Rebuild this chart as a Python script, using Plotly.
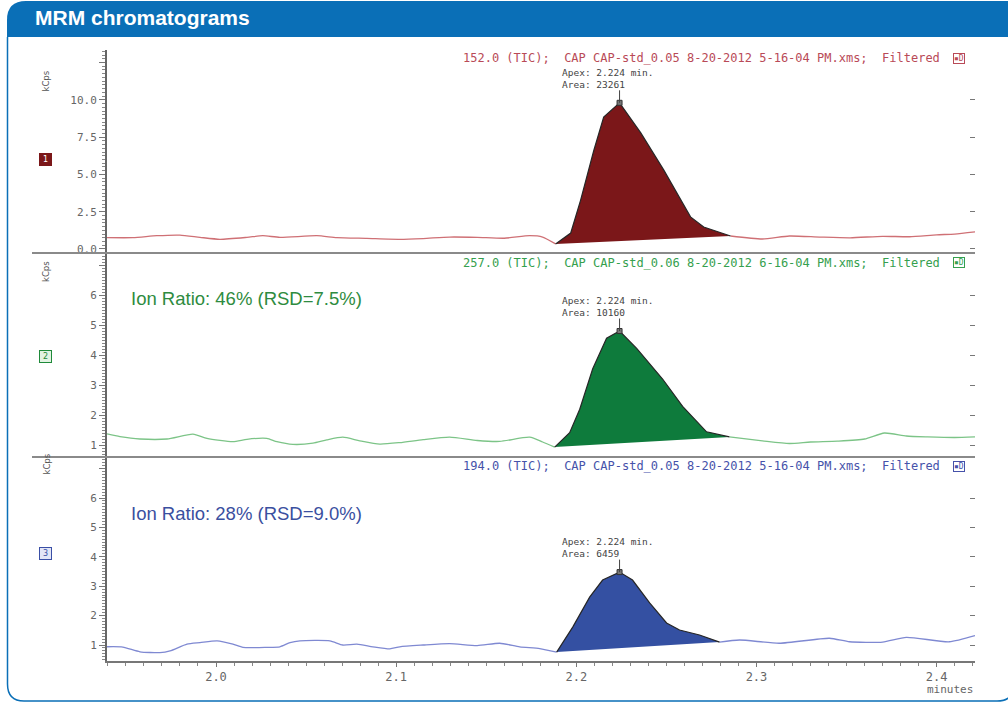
import plotly.graph_objects as go

# ---------------- data (time in minutes, intensity in kCps) ----------------
RED_T = [1.9395, 1.9539, 1.9672, 1.9800, 1.9911, 2.0022, 2.0172, 2.0260, 2.0355, 2.0560, 2.0671, 2.0837, 2.1020,
         2.1150, 2.1297, 2.1450, 2.1600, 2.1741, 2.1813,
         2.1885, 2.1969, 2.2024, 2.2097, 2.2152, 2.2240, 2.2357, 2.2485, 2.2634, 2.2707, 2.2856,
         2.3033, 2.3183, 2.3350, 2.3520, 2.3700, 2.3850, 2.4000, 2.4100, 2.4213]
RED_V = [0.76, 0.76, 0.89, 0.93, 0.78, 0.65, 0.78, 0.89, 0.78, 0.89, 0.76, 0.71, 0.65,
         0.70, 0.80, 0.78, 0.72, 0.89, 0.80,
         0.34, 1.07, 3.28, 6.60, 8.85, 9.80, 7.80, 5.30, 2.15, 1.47, 0.87,
         0.67, 0.87, 0.80, 0.75, 0.85, 0.82, 0.95, 1.00, 1.15]
RED_PEAK = [2.1885, 2.2856]

GREEN_T = [1.9395, 1.9467, 1.9578, 1.9728, 1.9872, 1.9950, 2.0094, 2.0172, 2.0282, 2.0338, 2.0427, 2.0538,
           2.0615, 2.0704, 2.0798, 2.0909, 2.1020, 2.1150, 2.1297, 2.1450, 2.1575, 2.1741, 2.1813,
           2.1880, 2.1963, 2.2019, 2.2091, 2.2168, 2.2240, 2.2335, 2.2479, 2.2590, 2.2723, 2.2850,
           2.3033, 2.3183, 2.3300, 2.3450, 2.3600, 2.3710, 2.3832, 2.3950, 2.4100, 2.4213]
GREEN_V = [1.37, 1.28, 1.20, 1.20, 1.36, 1.22, 1.11, 1.19, 1.22, 1.11, 1.02, 1.06,
           1.17, 1.26, 1.14, 1.03, 1.08, 1.18, 1.26, 1.15, 1.12, 1.26, 1.10,
           0.93, 1.41, 2.19, 3.54, 4.56, 4.80, 4.22, 3.20, 2.29, 1.44, 1.27,
           1.14, 1.05, 1.10, 1.13, 1.20, 1.40, 1.30, 1.27, 1.25, 1.27]
GREEN_PEAK = [2.1880, 2.2850]

BLUE_T = [1.9395, 1.9483, 1.9578, 1.9689, 1.9745, 1.9839, 1.9911, 2.0006, 2.0094, 2.0150, 2.0282, 2.0355,
          2.0411, 2.0466, 2.0632, 2.0704, 2.0782, 2.0871, 2.0965, 2.1020, 2.1150, 2.1297, 2.1450, 2.1575,
          2.1686, 2.1797,
          2.1891, 2.1980, 2.2074, 2.2146, 2.2240, 2.2312, 2.2407, 2.2501, 2.2573, 2.2684, 2.2795,
          2.2906, 2.3127, 2.3405, 2.3516, 2.3700, 2.3832, 2.4070, 2.4213]
BLUE_V = [0.94, 0.93, 0.77, 0.74, 0.80, 1.03, 1.08, 1.14, 1.03, 0.92, 0.92, 0.94,
          1.08, 1.14, 1.14, 1.00, 1.03, 0.94, 0.87, 0.94, 1.00, 1.05, 0.98, 1.06,
          0.94, 0.88,
          0.76, 1.61, 2.63, 3.21, 3.48, 3.21, 2.43, 1.75, 1.51, 1.34, 1.10,
          1.17, 1.06, 1.23, 1.11, 1.10, 1.26, 1.11, 1.32]
BLUE_PEAK = [2.1891, 2.2795]

HEADERS = ["152.0 (TIC);\u00a0 CAP CAP-std_0.05 8-20-2012 5-16-04 PM.xms;\u00a0 Filtered",
           "257.0 (TIC);\u00a0 CAP CAP-std_0.06 8-20-2012 6-16-04 PM.xms;\u00a0 Filtered",
           "194.0 (TIC);\u00a0 CAP CAP-std_0.05 8-20-2012 5-16-04 PM.xms;\u00a0 Filtered"]
APEX_LABELS = ["Apex: 2.224 min.<br>Area: 23261",
               "Apex: 2.224 min.<br>Area: 10160",
               "Apex: 2.224 min.<br>Area: 6459"]
ION_RATIOS = [None, "Ion Ratio: 46% (RSD=7.5%)", "Ion Ratio: 28% (RSD=9.0%)"]
PANEL_NUMS = ["1", "2", "3"]

X_RANGE = [1.9395, 2.4213]
X_TICKS = [2.0, 2.1, 2.2, 2.3, 2.4]
X_TICK_TEXT = ["2.0", "2.1", "2.2", "2.3", "2.4"]

Y_RANGES = [[-0.27, 13.34], [0.6, 7.4], [0.456, 7.395]]
Y_TICKS = [[0, 2.5, 5, 7.5, 10, 12.5], [1, 2, 3, 4, 5, 6, 7], [1, 2, 3, 4, 5, 6, 7]]
Y_TICK_TEXT = [["0.0", "2.5", "5.0", "7.5", "10.0", ""], ["1", "2", "3", "4", "5", "6", ""],
               ["1", "2", "3", "4", "5", "6", ""]]
Y_RIGHT_TICKS = [[0, 2.5, 5, 7.5, 10], [1, 2, 3, 4, 5, 6], [1, 2, 3, 4, 5, 6]]
Y_MINOR = [0.25, 0.1, 0.1]

# ---------------- styling ----------------
W, H = 1008, 703
ML, MR, MT, MB = 107, 33, 50, 42
PW, PH = W - ML - MR, H - MT - MB


def PX(x):
    return (x - ML) / PW


def PY(y):
    return (H - MB - y) / PH


DOMAINS = [[PY(253), 1.0], [PY(457), PY(253)], [0.0, PY(457)]]
BLUE_FRAME = "#0a6fb7"
MONO = "DejaVu Sans Mono"

panels = [
    dict(t=RED_T, v=RED_V, peak=RED_PEAK, line="#cf7075", fill="#7b1719", head="#b94a57", box_bg="#7b1719",
         box_fg="#ffffff", text="#7b1719"),
    dict(t=GREEN_T, v=GREEN_V, peak=GREEN_PEAK, line="#7cc487", fill="#0e7b3c", head="#35a04e", box_bg="#e3f3e3",
         box_fg="#1f8a3a", text="#2e8b40"),
    dict(t=BLUE_T, v=BLUE_V, peak=BLUE_PEAK, line="#7f89d2", fill="#3450a2", head="#4652aa", box_bg="#e3e6f6",
         box_fg="#3a4fa6", text="#3a4fa0"),
]

fig = go.Figure()
annotations = []

for i, p in enumerate(panels):
    n = "" if i == 0 else str(i + 1)
    xa, ya = "x" + n, "y" + n
    s, e = p["peak"]
    pre = [(t, v) for t, v in zip(p["t"], p["v"]) if t <= s]
    post = [(t, v) for t, v in zip(p["t"], p["v"]) if t >= e]
    pk = [(t, v) for t, v in zip(p["t"], p["v"]) if s <= t <= e]
    for seg in (pre, post):
        fig.add_trace(go.Scatter(x=[a for a, _ in seg], y=[b for _, b in seg], mode="lines",
                                 line=dict(color=p["line"], width=1.3, shape="spline", smoothing=0.6),
                                 xaxis=xa, yaxis=ya, hoverinfo="skip", showlegend=False))
    fig.add_trace(go.Scatter(x=[a for a, _ in pk], y=[b for _, b in pk], mode="lines", fill="toself",
                             fillcolor=p["fill"], line=dict(color="#262626", width=1.2),
                             xaxis=xa, yaxis=ya, hoverinfo="skip", showlegend=False))
    apex_t, apex_v = max(pk, key=lambda q: q[1])
    fig.add_trace(go.Scatter(x=[apex_t], y=[apex_v], mode="markers",
                             marker=dict(symbol="square", size=5, color="#777777",
                                         line=dict(color="#333333", width=1)),
                             xaxis=xa, yaxis=ya, hoverinfo="skip", showlegend=False))
    # trace registering the right-hand mirror axis
    fig.add_trace(go.Scatter(x=p["t"], y=p["v"], mode="none", xaxis=xa, yaxis="y" + str(i + 4),
                             hoverinfo="skip", showlegend=False))

    # apex tick line and label
    annotations.append(dict(x=apex_t, y=apex_v, xref=xa, yref=ya, text="", showarrow=True, arrowhead=0,
                            arrowwidth=1, arrowcolor="#444444", ax=0, ay=-14))
    annotations.append(dict(x=apex_t, y=apex_v, xref=xa, yref=ya, text=APEX_LABELS[i], showarrow=False,
                            xanchor="left", yanchor="bottom", xshift=-60, yshift=11, align="left",
                            font=dict(family=MONO, size=9.5, color="#444444")))
    # header line
    hy = [0.96, 0.951, 0.955][i]
    annotations.append(dict(x=PX(942), y=hy, xref="paper", yref=ya + " domain", text=HEADERS[i],
                            showarrow=False, xanchor="right", yanchor="middle",
                            font=dict(family=MONO, size=12, color=p["head"])))
    annotations.append(dict(x=PX(959), y=hy, xref="paper", yref=ya + " domain", text="▪D",
                            showarrow=False, xanchor="center", yanchor="middle", bordercolor=p["head"],
                            borderwidth=1, borderpad=0, font=dict(family=MONO, size=8, color=p["head"])))
    # kCps label
    annotations.append(dict(x=PX(39), y=PY([69, 272, 477][i]), xref="paper", yref="paper", text="kCps",
                            showarrow=False, textangle=-90,
                            font=dict(family="DejaVu Sans", size=8.5, color="#555555")))
    # panel number box
    annotations.append(dict(x=PX(39), y=PY([153, 356, 560][i]), xref="paper", yref="paper", text=PANEL_NUMS[i],
                            showarrow=False, width=11, height=11, bgcolor=p["box_bg"],
                            bordercolor=p["box_fg"] if i else p["box_bg"], borderwidth=1, borderpad=0,
                            font=dict(family="DejaVu Sans", size=8, color=p["box_fg"])))
    if ION_RATIOS[i]:
        annotations.append(dict(x=PX(129), y=PY([298, 298, 513][i]), xref="paper", yref="paper",
                                text=ION_RATIOS[i], showarrow=False, xanchor="left", yanchor="middle",
                                font=dict(family="Liberation Sans", size=18.5, color=p["text"])))

# header title and minutes label
annotations.append(dict(x=PX(33), y=PY(18), xref="paper", yref="paper", text="<b>MRM chromatograms</b>",
                        showarrow=False, xanchor="left", yanchor="middle",
                        font=dict(family="Liberation Sans", size=21, color="white")))
annotations.append(dict(x=1.0, y=PY(689), xref="paper", yref="paper", text="minutes", showarrow=False,
                        xanchor="right", yanchor="middle", font=dict(family=MONO, size=11, color="#666666")))

shapes = [
    dict(type="path", xref="paper", yref="paper", layer="below",
         path=f"M {PX(7)},{PY(37)} L {PX(7)},{PY(20)} Q {PX(7)},{PY(1)} {PX(26)},{PY(1)} "
              f"L {PX(1015)},{PY(1)} L {PX(1015)},{PY(37)} Z",
         fillcolor=BLUE_FRAME, line=dict(width=0)),
    dict(type="path", xref="paper", yref="paper", layer="below",
         path=f"M {PX(7.5)},{PY(37)} L {PX(7.5)},{PY(684)} Q {PX(7.5)},{PY(701)} {PX(24)},{PY(701)} "
              f"L {PX(997)},{PY(701)} Q {PX(1014)},{PY(701)} {PX(1014)},{PY(684)} L {PX(1014)},{PY(37)}",
         line=dict(color=BLUE_FRAME, width=1.5)),
]
for b in (DOMAINS[0][0], DOMAINS[1][0]):
    shapes.append(dict(type="line", xref="paper", yref="paper", x0=PX(32), x1=1.0, y0=b, y1=b,
                       line=dict(color="#8a8a8a", width=2)))

layout = dict(
    width=W, height=H, margin=dict(l=ML, r=MR, t=MT, b=MB, pad=0),
    paper_bgcolor="white", plot_bgcolor="white", showlegend=False,
    annotations=annotations, shapes=shapes,
)
for i in range(3):
    n = "" if i == 0 else str(i + 1)
    xa = dict(range=X_RANGE, domain=[0, 1], anchor="y" + n, showgrid=False, zeroline=False, fixedrange=True)
    if i < 2:
        xa.update(visible=False)
    else:
        xa.update(showline=True, linecolor="#777777", linewidth=2, ticks="outside", ticklen=4, tickwidth=1,
                  tickcolor="#777777", tickmode="array", tickvals=X_TICKS, ticktext=X_TICK_TEXT,
                  tickfont=dict(family=MONO, size=12, color="#666666"),
                  minor=dict(tickmode="linear", tick0=2.0, dtick=0.01, ticks="outside", ticklen=3,
                             tickcolor="#888888"))
    layout["xaxis" + n] = xa
    layout["yaxis" + n] = dict(
        range=Y_RANGES[i], domain=DOMAINS[i], anchor="x" + n, showgrid=False, zeroline=False,
        showline=True, linecolor="#666666", linewidth=2, ticks="outside", ticklen=6, tickwidth=1,
        tickcolor="#777777", tickmode="array", tickvals=Y_TICKS[i], ticktext=Y_TICK_TEXT[i],
        tickfont=dict(family=MONO, size=11, color="#666666"), fixedrange=True,
        minor=dict(tickmode="linear", tick0=0, dtick=Y_MINOR[i], ticks="outside", ticklen=3,
                   tickcolor="#888888"))
    layout["yaxis" + str(i + 4)] = dict(
        range=Y_RANGES[i], overlaying="y" + n, side="right", anchor="x" + n, showgrid=False, zeroline=False,
        showline=False, ticks="inside", ticklen=5, tickcolor="#777777", tickmode="array",
        tickvals=Y_RIGHT_TICKS[i], showticklabels=False, fixedrange=True)

fig.update_layout(**layout)
fig.write_html("out.html", config={"displayModeBar": False},
               post_script="document.body.style.margin='0px';document.body.style.overflow='hidden';")
